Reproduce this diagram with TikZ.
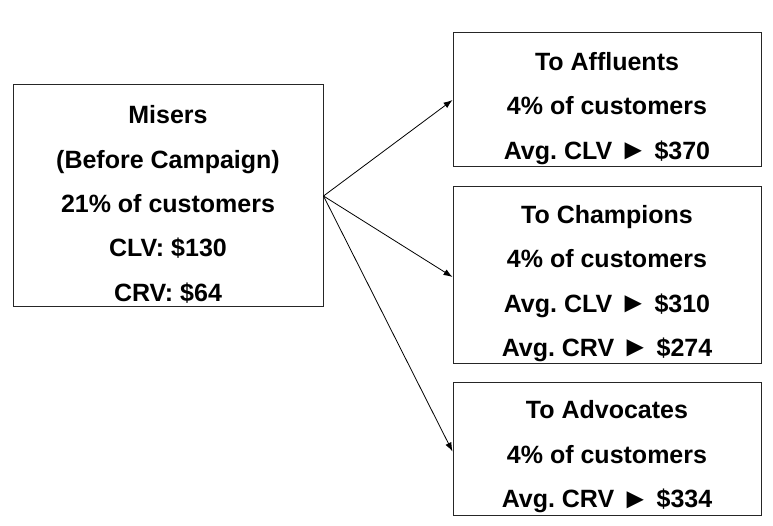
\documentclass[tikz,border=0pt]{standalone}
\usepackage{fontspec}
\setmainfont{Liberation Sans}
\usepackage{graphicx}
\usepackage{tikz}
\usetikzlibrary{arrows, arrows.meta, positioning}
\newcommand{\topgap}{\rule{0pt}{35pt}}
\newcommand{\tri}{\raisebox{-0.5pt}{\scalebox{1.15}{►}}}

\begin{document}
\begin{tikzpicture}[x=1pt, y=-1pt,
    segbox/.style={draw=black!85, line width=1pt, align=center, inner sep=0pt,
        font=\fontsize{25}{44.4}\selectfont\bfseries\frenchspacing},
    move/.style={-{Latex[length=9pt, width=6.5pt]}, line width=0.8pt}]
                        \useasboundingbox (0, 0) rectangle (773, 526);

                        \node[segbox, minimum width=310, minimum height=222] (misers) at (168, 196) {\topgap Misers\\(Before Campaign)\\21\% of customers\\CLV: \$130\\CRV: \$64};

                        \node[segbox, minimum width=308, minimum height=134] (affluents) at (607, 100) {\topgap To Affluents\\4\% of customers\\Avg. CLV \tri{} \$370};
                        \node[segbox, minimum width=308, minimum height=176] (champions) at (607, 275) {\topgap To Champions\\4\% of customers\\Avg. CLV \tri{} \$310\\Avg. CRV \tri{} \$274};
                        \node[segbox, minimum width=308, minimum height=133] (advocates) at (607, 448.5) {\topgap To Advocates\\4\% of customers\\Avg. CRV \tri{} \$334};

                        \draw[move] (misers.east) -- (affluents.west);
                        \draw[move] (misers.east) -- ([yshift=-2]champions.west);
                        \draw[move] (misers.east) -- ([yshift=-3]advocates.west);
                    \end{tikzpicture}
\end{document}
